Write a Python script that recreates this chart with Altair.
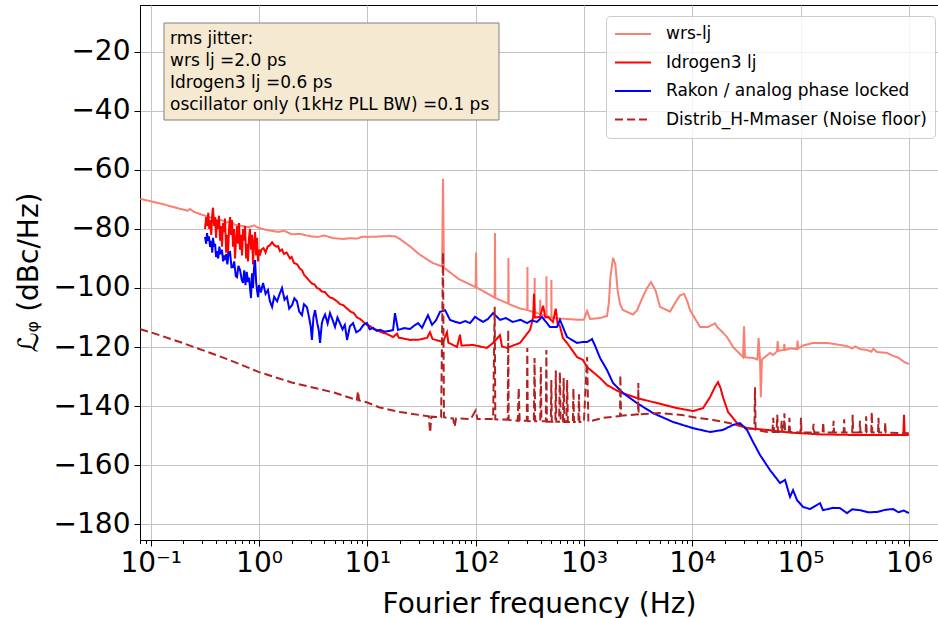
import json
import altair as alt
import pandas as pd

SERIES = ["wrs-lj", "Idrogen3 lj", "Rakon / analog phase locked", "Distrib_H-Mmaser (Noise floor)"]
COLORS = ["#FA8072", "#FF0000", "#0000FF", "#B22222"]
DASHES = [[1, 0], [1, 0], [1, 0], [8, 4]]

JITTER_LINES = ["rms jitter:", "wrs lj =2.0 ps", "Idrogen3 lj =0.6 ps",
                "oscillator only (1kHz PLL BW) =0.1 ps"]

X_MAJOR = [0.1, 1, 10, 100, 1000, 1e4, 1e5, 1e6]
X_LABELS = ["10⁻¹", "10⁰", "10¹", "10²", "10³", "10⁴", "10⁵", "10⁶"]
Y_TICKS = [-180, -160, -140, -120, -100, -80, -60, -40, -20]

# (frequency Hz, dBc/Hz)
WRS = [(0.08, -69.8), (0.1, -70.6), (0.13, -71.6), (0.187, -73.2), (0.22, -73.8), (0.23, -73.2),
       (0.25, -74.2), (0.304, -75.3), (0.35, -76.0), (0.4, -76.8), (0.45, -77.0), (0.5, -77.8),
       (0.55, -77.5), (0.6, -78.6), (0.7, -79.0), (0.8, -79.4), (0.9, -78.8), (1.0, -79.7),
       (1.2, -80.4), (1.5, -81.0), (1.7, -80.6), (2.0, -81.8), (2.4, -81.7), (3.0, -82.5),
       (3.5, -82.7), (4.0, -82.2), (4.8, -83.1), (6.0, -83.4), (7.0, -83.1), (8.0, -83.3),
       (9.0, -82.6), (10, -82.7), (12, -82.6), (16, -82.4), (18, -82.5), (20, -83.4), (25, -86.0),
       (30, -88.5), (40, -91.5), (49, -92.7), (50, -63.0), (51, -93.1), (70, -97.0), (100, -99.7),
       (101, -88.0), (102, -99.8), (150, -103.3), (151, -81.4), (152, -103.4), (200, -105.3),
       (201, -89.8), (202, -105.4), (250, -106.8), (300, -107.5), (301, -92.9), (302, -107.5),
       (350, -108.3), (351, -96.6), (352, -108.3), (393, -108.8), (395, -104.0), (397, -108.9),
       (450, -109.6), (451, -96.0), (452, -109.6), (500, -110.0), (501, -97.3), (502, -110.0),
       (560, -110.3), (700, -110.5), (900, -110.8), (1000, -110.8), (1069, -107.8), (1138, -110.5),
       (1400, -110.2), (1634, -109.5), (1700, -105.0), (1760, -96.0), (1857, -89.8), (1950, -92.0),
       (2050, -101.0), (2155, -105.5), (2296, -107.5), (2840, -109.0), (3100, -107.5),
       (3500, -103.0), (3826, -100.0), (4168, -98.0), (4600, -101.0), (5045, -106.4),
       (6240, -108.0), (7244, -104.0), (7715, -102.5), (8404, -102.0), (9000, -104.5),
       (9546, -107.5), (11800, -113.2), (14000, -113.2), (16240, -112.0), (17000, -113.2),
       (18500, -114.5), (20950, -116.6), (23820, -120.0), (29440, -123.4), (30080, -113.0),
       (30700, -123.5), (36430, -123.7), (40000, -124.2), (41000, -117.0), (42280, -124.4),
       (43000, -137.0), (44000, -124.2), (52270, -122.0), (55700, -122.7), (60660, -121.5),
       (61500, -118.0), (62500, -121.3), (70000, -121.0), (71000, -119.0), (72000, -121.0),
       (80000, -120.5), (92900, -120.7), (94000, -117.8), (95000, -120.5), (105500, -119.5),
       (130400, -118.6), (175700, -118.6), (231500, -119.3), (268800, -119.7), (300000, -120.5),
       (320000, -119.8), (354300, -120.7), (411000, -121.0), (450000, -121.6), (470000, -120.6),
       (508500, -121.7), (629000, -122.0), (714700, -123.0), (800000, -123.6), (900000, -125.0),
       (1000000, -125.8)]

IDROGEN = [(0.317, -80), (0.325, -76), (0.331, -79), (0.340, -74.5), (0.347, -80), (0.353, -77),
           (0.362, -82), (0.370, -75), (0.376, -72.8), (0.385, -79), (0.393, -76), (0.401, -83),
           (0.410, -77), (0.418, -80), (0.427, -75.5), (0.437, -84), (0.446, -79), (0.455, -86),
           (0.466, -78), (0.476, -81), (0.485, -76.5), (0.497, -88), (0.507, -82), (0.517, -89),
           (0.530, -79), (0.541, -76), (0.551, -82), (0.563, -77), (0.575, -86), (0.587, -80),
           (0.600, -90), (0.613, -84), (0.627, -79), (0.640, -85), (0.653, -78), (0.668, -87),
           (0.683, -82), (0.697, -89), (0.712, -80), (0.728, -84), (0.743, -79), (0.760, -90),
           (0.776, -85), (0.791, -91), (0.808, -83), (0.825, -80), (0.843, -87), (0.862, -82),
           (0.880, -92), (0.899, -85), (0.920, -81), (0.940, -89), (0.958, -83), (0.979, -91),
           (1.0, -87), (1.02, -89), (1.05, -87), (1.1, -86.5), (1.15, -88), (1.2, -86),
           (1.26, -85.5), (1.32, -84.5), (1.38, -85.5), (1.45, -86), (1.5, -85.8), (1.56, -87.5),
           (1.63, -87), (1.7, -88.5), (1.8, -88), (1.93, -90), (2.0, -89.5), (2.1, -91.5),
           (2.25, -92), (2.39, -93.5), (2.5, -94), (2.6, -95.5), (2.77, -96.6), (2.9, -97.5),
           (3.08, -98.5), (3.25, -98.8), (3.43, -100), (3.6, -100.3), (3.8, -101.2),
           (4.07, -101.4), (4.3, -102.5), (4.52, -103.2), (4.8, -103.5), (5.25, -104.5),
           (5.6, -105.5), (6.0, -105.8), (6.5, -107), (7.0, -108), (7.5, -108.5), (8.04, -110),
           (8.6, -110.5), (9.2, -111.5), (9.94, -112.5), (10.7, -113), (11.5, -114),
           (12.3, -114.2), (13.5, -115), (15, -115.5), (17.3, -116.6), (18.8, -115.5),
           (19.5, -116.8), (24.8, -117.6), (30, -117.5), (35.6, -116.9), (37.9, -115),
           (40, -117.3), (47, -118), (50, -118.3), (54.4, -115), (56, -118.5), (67.3, -120),
           (71.8, -115.8), (74, -119.5), (94.6, -119.3), (127, -120.3), (145, -118.6),
           (168, -116), (175, -119.8), (195, -120.3), (257, -118.6), (318, -114.2), (340, -110),
           (346, -102), (352, -110), (393, -109.8), (420, -106), (440, -110), (466, -109.8),
           (518, -111.5), (550, -107), (570, -112), (601, -113), (640, -117), (698, -118.6),
           (864, -123.4), (981, -124.4), (1069, -126.8), (1409, -130.5), (1634, -132.9),
           (2155, -135.3), (3092, -137.3), (4732, -139), (7244, -140.7), (10170, -141.7),
           (12590, -140.7), (14600, -137), (16240, -133.5), (17310, -131.9), (18300, -134),
           (19240, -137), (21410, -142), (25940, -145.8), (32060, -147.5), (49060, -148.1),
           (80000, -149), (151300, -149.6), (300000, -149.8), (700000, -149.8), (890000, -149.8),
           (903000, -143), (916000, -149.8), (1000000, -149.8)]

RAKON = [(0.317, -82.7), (0.325, -85), (0.331, -81.4), (0.338, -84), (0.345, -82.5),
         (0.353, -86.1), (0.362, -84), (0.370, -88), (0.376, -83), (0.385, -86), (0.393, -85),
         (0.401, -89.5), (0.409, -87.5), (0.420, -90), (0.430, -86), (0.441, -88.5),
         (0.455, -87.1), (0.466, -91), (0.476, -89), (0.485, -90.5), (0.497, -88.5),
         (0.510, -92), (0.525, -88), (0.540, -87.8), (0.557, -93), (0.575, -92.9), (0.590, -91),
         (0.610, -96), (0.626, -96.3), (0.645, -92.5), (0.668, -93.9), (0.690, -97),
         (0.711, -98.3), (0.730, -94), (0.750, -99), (0.770, -94.5), (0.791, -98),
         (0.810, -96.5), (0.830, -101), (0.843, -103.4), (0.862, -95), (0.880, -100),
         (0.900, -93), (0.919, -90.5), (0.940, -98), (0.960, -101), (0.979, -103.1), (1.0, -99),
         (1.04, -101.5), (1.09, -98.3), (1.15, -102), (1.21, -100.7), (1.26, -104.5),
         (1.32, -106.4), (1.38, -103), (1.47, -104.5), (1.55, -102), (1.63, -100), (1.72, -104),
         (1.81, -103), (1.9, -107), (2.02, -105.8), (2.12, -103.5), (2.24, -104.5), (2.35, -108),
         (2.49, -109.2), (2.6, -105.5), (2.77, -106.5), (2.9, -110), (3.0, -113), (3.08, -117.6),
         (3.18, -110), (3.29, -107.5), (3.45, -112), (3.55, -114), (3.66, -118.6), (3.8, -112),
         (3.9, -110.5), (4.07, -109), (4.3, -112), (4.52, -108.5), (4.8, -111), (5.03, -113.2),
         (5.3, -110), (5.6, -112), (5.9, -114), (6.2, -112.5), (6.5, -117.6), (6.9, -113),
         (7.38, -111.9), (7.9, -115), (8.56, -114.2), (9.2, -112.5), (9.94, -111.9),
         (10.5, -114), (11.3, -113.5), (12.2, -114.5), (13.1, -114.2), (14.5, -114.8),
         (16.2, -114.5), (17.3, -114.2), (18, -108.5), (19.2, -114.2), (22, -113.6),
         (24.8, -113.9), (27, -112.8), (29.4, -111.9), (32, -113.5), (36.3, -109.2),
         (39.6, -112.5), (43, -111), (46.9, -108.1), (52.2, -107.5), (58, -110.8), (65, -111.5),
         (71.8, -111.9), (80, -111.2), (88.8, -111.9), (98.7, -109.8), (117, -111.5),
         (130, -110.5), (145, -108.5), (168, -110.8), (190, -110.2), (221, -111.5),
         (260, -110.8), (298, -111.9), (330, -111), (369, -111.5), (410, -109.8), (486, -113.2),
         (564, -113.2), (601, -110.8), (698, -116.6), (864, -118.6), (981, -118.3),
         (1069, -118.3), (1188, -117.3), (1265, -119.5), (1409, -123.7), (1634, -127.8),
         (1857, -132.2), (2296, -135.6), (3092, -139), (4348, -142.4), (6650, -145.4),
         (10170, -147.5), (14600, -148.8), (19240, -148.1), (23820, -146.4), (27620, -145.8),
         (32060, -148.1), (35650, -151.5), (42280, -156.6), (52270, -161.7), (64700, -166.1),
         (71950, -165), (79990, -170.8), (85310, -168.5), (92900, -171.9), (105500, -174.2),
         (122300, -174.9), (151300, -172.9), (161300, -175.3), (200000, -174.5),
         (231500, -174.6), (268800, -176.3), (300000, -175), (354300, -175.3), (420000, -176),
         (508500, -175.9), (600000, -175.2), (714700, -174.9), (800000, -176), (900000, -175.4),
         (1000000, -176.3)]

FLOOR = [(0.08, -114), (0.1, -115), (0.2, -118.7), (0.5, -124), (1, -128.5), (2, -132),
         (5, -135.5), (8, -138), (8.2, -135), (8.4, -138.1), (10, -138.8), (13, -140.5),
         (20, -142), (30, -143), (37, -143.5), (38, -149), (39, -143.6), (48, -143.8), (50, -88),
         (51, -143.8), (55, -144), (62, -144.2), (64, -147), (66, -144.2), (90, -144.4),
         (100, -141.5), (104, -144.4), (145, -144.4), (150, -106.4), (152, -144.5),
         (198, -144.6), (200, -114.2), (202, -144.7), (245, -145), (250, -133.9), (255, -145),
         (297, -145), (300, -120.3), (303, -145.1), (345, -145.2), (350, -123.7), (355, -145.2),
         (395, -145.2), (400, -126.8), (405, -145.2), (445, -145.2), (450, -121), (455, -145.3),
         (495, -145.3), (500, -131.2), (505, -145.3), (545, -145.3), (550, -128), (555, -145.3),
         (590, -145.3), (600, -128.5), (610, -145.3), (640, -145.3), (650, -130.5),
         (660, -145.4), (690, -145.4), (700, -131.2), (710, -145.4), (790, -145.4),
         (800, -134), (810, -145.4), (890, -145.4), (900, -136), (910, -145.4), (1000, -145.4),
         (1069, -123.4), (1100, -145.3), (1500, -144), (2155, -143.4), (2170, -129.5),
         (2200, -143.3), (3160, -142.8), (3180, -132.2), (3200, -142.8), (5045, -142.4),
         (8000, -143), (11070, -144), (15560, -144.7), (22340, -145.8), (32060, -147.5),
         (37500, -147.8), (38000, -133.6), (38500, -148), (49060, -148.8), (55000, -148.8),
         (56000, -144), (57000, -148.8), (60000, -148.8), (61000, -143), (62000, -148.8),
         (66000, -148.8), (67000, -145), (68000, -148.8), (70000, -148.8), (71000, -142.5),
         (72000, -148.8), (78000, -148.8), (79000, -144), (80000, -148.8), (100000, -149),
         (101000, -144), (102000, -149), (130000, -149), (132000, -146), (134000, -149),
         (160000, -149), (162000, -145.5), (164000, -149), (200000, -149), (202000, -145),
         (204000, -149), (250000, -149), (253000, -144.5), (256000, -149), (300000, -149),
         (303000, -143), (306000, -149), (350000, -149), (354000, -145), (358000, -149),
         (400000, -149), (404000, -143.5), (408000, -149), (450000, -149), (455000, -142),
         (460000, -149), (520000, -149), (525000, -144), (530000, -149), (600000, -149),
         (606000, -145.5), (612000, -149), (1000000, -149.2)]

rows = []
for name, pts in zip(SERIES, [WRS, IDROGEN, RAKON, FLOOR]):
    for i, (f, v) in enumerate(pts):
        rows.append({"series": name, "f": f, "db": v, "i": i})
df = pd.DataFrame(rows)

XMIN, XMAX = 0.0796, 1.86e6
minor = []
for e in range(-2, 6):
    for k in range(2, 10):
        v = round(k * 10.0 ** e, 10)
        if XMIN <= v <= XMAX:
            minor.append(v)
x_values = sorted(X_MAJOR + minor)

LOG = "log(datum.value)/LN10"
MAJ = f"abs({LOG} - round({LOG})) < 1e-6"
label_expr = f"{MAJ} ? {json.dumps(X_LABELS, ensure_ascii=False)}[round({LOG}) + 1] : ''"

FONT = "DejaVu Sans"

x_enc = alt.X(
    "f:Q",
    scale=alt.Scale(type="log", domain=[XMIN, XMAX], nice=False),
    axis=alt.Axis(
        values=x_values, labelExpr=label_expr, title="Fourier frequency (Hz)",
        labelFontSize=28, titleFontSize=28, labelPadding=3,
        gridOpacity={"condition": {"test": MAJ, "value": 1}, "value": 0},
        tickSize={"condition": {"test": MAJ, "value": 6}, "value": 3.5},
        titleX=399, titleY=72, titleBaseline="alphabetic", labelFlush=False,
        labelOverlap=False,
    ),
)
y_enc = alt.Y(
    "db:Q",
    scale=alt.Scale(domain=[-185.4, -4.1], nice=False, zero=False),
    axis=alt.Axis(
        values=Y_TICKS, title="ℒᵩ (dBc/Hz)", labelFontSize=28, titleFontSize=28,
        tickSize=6, labelPadding=4, titleX=-103, titleY=267, titleBaseline="alphabetic",
        titleAngle=270,
    ),
)

legend = alt.Legend(
    title=None, orient="none", legendX=466, legendY=11, symbolType="stroke",
    symbolSize=1296, symbolStrokeWidth=2, labelFontSize=17, labelFont=FONT, labelLimit=400,
    labelOffset=14, padding=8, rowPadding=8.5, clipHeight=20,
    fillColor="rgba(255,255,255,0.8)", strokeColor="#cccccc", cornerRadius=4,
    labelColor="black",
)
color = alt.Color("series:N", scale=alt.Scale(domain=SERIES, range=COLORS), legend=legend)
dash = alt.StrokeDash("series:N", scale=alt.Scale(domain=SERIES, range=DASHES), legend=legend)

base = alt.Chart(df).mark_line(strokeWidth=2, clip=True).encode(
    x=x_enc, y=y_enc, color=color, strokeDash=dash, order="i:Q"
)
lines = [base.transform_filter(alt.datum.series == s) for s in SERIES]

one = pd.DataFrame({"k": [0]})
box = alt.Chart(one).mark_rect(fill="#F6E9D2", stroke="#808080", strokeWidth=1).encode(
    x=alt.value(24), x2=alt.value(359), y=alt.value(18), y2=alt.value(115)
)
text = alt.Chart(one).mark_text(
    align="left", baseline="alphabetic", font=FONT, fontSize=17, lineBreak="\n",
    lineHeight=22, color="black",
).encode(x=alt.value(30), y=alt.value(39), text=alt.value("\n".join(JITTER_LINES)))

chart = alt.layer(*lines, box, text).properties(
    width=798, height=535,
    autosize=alt.AutoSizeParams(type="none"),
    padding={"left": 140, "top": 5, "right": 0, "bottom": 78},
).configure_view(stroke="black", strokeWidth=1).configure_axis(
    domainColor="black", tickColor="black", labelColor="black", titleColor="black",
    labelFont=FONT, titleFont=FONT, gridColor="#c4c4c4", gridWidth=1,
    titleFontWeight="normal", domainWidth=1,
)

chart.save("out.html", embed_options={"renderer": "svg", "actions": False})
